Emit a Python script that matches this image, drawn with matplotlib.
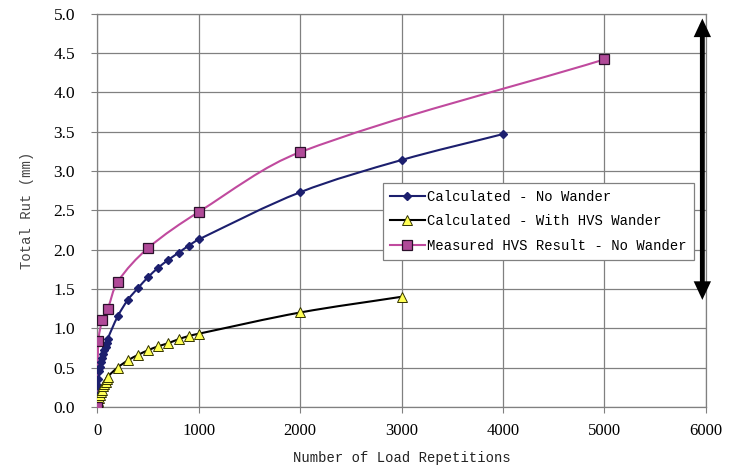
import numpy as np
import matplotlib
matplotlib.use("Agg")
import matplotlib.pyplot as plt
from matplotlib.path import Path
from matplotlib.patches import PathPatch
from matplotlib.lines import Line2D

# ---- data ----
calc_no_wander_x = [1, 5, 10, 20, 30, 40, 50, 60, 70, 80, 90, 100,
                    200, 300, 400, 500, 600, 700, 800, 900, 1000, 2000, 3000, 4000]
calc_no_wander_y = [0.15, 0.27, 0.36, 0.45, 0.51, 0.57, 0.62, 0.67, 0.72, 0.76, 0.81, 0.86,
                    1.15, 1.36, 1.51, 1.65, 1.77, 1.87, 1.96, 2.05, 2.13, 2.73, 3.14, 3.47]

calc_wander_x = [1, 10, 20, 30, 40, 50, 60, 70, 80, 90, 100,
                 200, 300, 400, 500, 600, 700, 800, 900, 1000, 2000, 3000]
calc_wander_y = [0.05, 0.08, 0.11, 0.15, 0.19, 0.22, 0.26, 0.29, 0.32, 0.35, 0.38,
                 0.50, 0.59, 0.66, 0.72, 0.77, 0.81, 0.86, 0.90, 0.93, 1.20, 1.40]

measured_x = [0, 10, 50, 100, 200, 500, 1000, 2000, 5000]
measured_y = [0.0, 0.84, 1.11, 1.24, 1.59, 2.02, 2.48, 3.24, 4.42]

series_labels = ["Calculated - No Wander",
                 "Calculated - With HVS Wander",
                 "Measured HVS Result - No Wander"]

x_ticks = [0, 1000, 2000, 3000, 4000, 5000, 6000]
y_ticks = [0.0, 0.5, 1.0, 1.5, 2.0, 2.5, 3.0, 3.5, 4.0, 4.5, 5.0]


def smooth_path(ax, xs, ys):
    """Smoothed line drawn as cubic Bezier segments through the data points
    (chord-length parameterised Catmull-Rom, computed in screen space)."""
    P = ax.transData.transform(np.column_stack([xs, ys]).astype(float))
    n = len(P)
    d = np.maximum(np.hypot(*np.diff(P, axis=0).T), 1e-9)
    t = np.concatenate([[0], np.cumsum(d)])
    tang = np.zeros_like(P)
    for i in range(n):
        a = max(i - 1, 0)
        b = min(i + 1, n - 1)
        tang[i] = (P[b] - P[a]) / (t[b] - t[a])
    verts = [P[0]]
    codes = [Path.MOVETO]
    for i in range(n - 1):
        h = d[i]
        verts += [P[i] + tang[i] * h / 3.0, P[i + 1] - tang[i + 1] * h / 3.0, P[i + 1]]
        codes += [Path.CURVE4] * 3
    V = ax.transData.inverted().transform(np.array(verts))
    return Path(V, codes)


mono = "Liberation Mono"
serif = "Liberation Serif"

fig = plt.figure(figsize=(7.33, 4.66), dpi=100)
ax = fig.add_axes([97.4 / 733, 59.2 / 466, 608.5 / 733, 393.0 / 466])
ax.set_xlim(0, 6000)
ax.set_ylim(0, 5.0)

navy = "#1c1f6e"
pink = "#c04a9e"
sq_face = "#b04a98"
tri_face = "#ffff55"

styles = [
    (calc_no_wander_x, calc_no_wander_y, navy, dict(marker="D", ms=4.5, mfc=navy, mec=navy), 1.5),
    (calc_wander_x, calc_wander_y, "black", dict(marker="^", ms=6.5, mfc=tri_face, mec="#333300", mew=0.7), 1.5),
    (measured_x, measured_y, pink, dict(marker="s", ms=6.5, mfc=sq_face, mec="#2a102a", mew=0.9), 1.5),
]

handles = []
for (xs, ys, col, mk, lw), lab in zip(styles, series_labels):
    ax.add_patch(PathPatch(smooth_path(ax, xs, ys), fill=False, edgecolor=col, lw=lw, zorder=3))
    ax.plot(xs, ys, linestyle="none", zorder=4, **mk)
    handles.append(Line2D([], [], color=col, lw=lw, **mk))

ax.set_xlim(0, 6000)
ax.set_ylim(0, 5.0)
ax.set_xticks(x_ticks)
ax.set_yticks(y_ticks)
ax.set_xticklabels([str(v) for v in x_ticks], fontfamily=serif, fontsize=12)
ax.set_yticklabels([f"{v:.1f}" for v in y_ticks], fontfamily=serif, fontsize=12.5)
ax.tick_params(axis="both", direction="out", length=4, width=0.8, color="#808080")
ax.tick_params(axis="y", pad=12)
ax.tick_params(axis="x", pad=8)
ax.grid(True, color="#808080", lw=0.9)
ax.set_axisbelow(True)
for s in ax.spines.values():
    s.set_color("#808080")
    s.set_linewidth(0.9)

ax.set_xlabel("Number of Load Repetitions", fontfamily=mono, fontsize=10, color="#222222", labelpad=8)
ax.set_ylabel("Total Rut (mm)", fontfamily=mono, fontsize=10, color="#444444", labelpad=14)

leg = ax.legend(handles, series_labels, loc="upper left",
                bbox_to_anchor=((383 - 97.4) / 608.5, (406.8 - 183) / 393.0),
                prop={"family": mono, "size": 10}, frameon=True, fancybox=False,
                edgecolor="#808080", framealpha=1, handlelength=2.5, handletextpad=0.2,
                borderpad=0.5, labelspacing=0.75, borderaxespad=0)
leg.get_frame().set_linewidth(0.9)

# double-headed arrow at the right edge
ax.annotate("", xy=(5965, 4.94), xytext=(5965, 1.36),
            arrowprops=dict(arrowstyle="<|-|>,head_length=0.75,head_width=0.35",
                            color="black", lw=3.5, shrinkA=0, shrinkB=0,
                            joinstyle="miter", capstyle="butt"),
            annotation_clip=False, zorder=6)

fig.savefig("out.png", dpi=100)
